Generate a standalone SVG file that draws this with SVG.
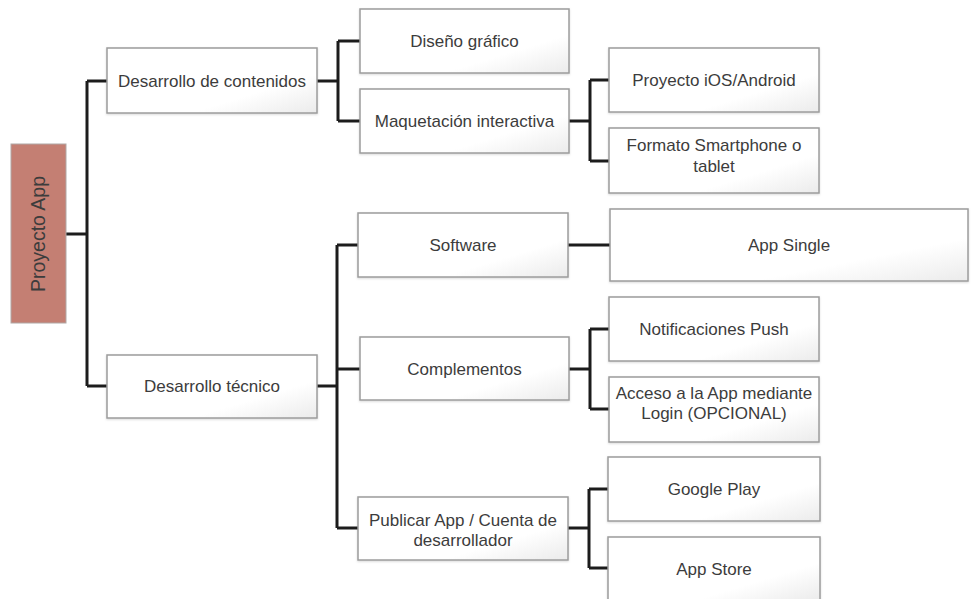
<svg xmlns="http://www.w3.org/2000/svg" width="972" height="599" viewBox="0 0 972 599">
<style>
.box{fill:url(#g);stroke:#9c9c9c;stroke-width:1.5;filter:url(#sh)}
.t{font-family:"Liberation Sans",Arial,sans-serif;font-size:17px;fill:#3c3c3c;text-anchor:middle}
.c{fill:none;stroke:#1c1c1c;stroke-width:3}
</style>
<defs>
<linearGradient id="g" x1="0" y1="0" x2="1" y2="1">
<stop offset="0" stop-color="#ffffff"/>
<stop offset="0.7" stop-color="#ffffff"/>
<stop offset="1" stop-color="#ebebeb"/>
</linearGradient>
<filter id="sh" x="-5%" y="-5%" width="110%" height="115%">
<feDropShadow dx="0" dy="1" stdDeviation="1" flood-color="#000" flood-opacity="0.15"/>
</filter>
</defs>
<rect width="972" height="599" fill="#ffffff"/>
<g id="connectors">
<path class="c" d="M66,234 H87 M87,81 V386 M87,81 H107 M87,386 H107"/>
<path class="c" d="M317,81 H338 M338,41 V121 M338,41 H360 M338,121 H360"/>
<path class="c" d="M569,121 H590 M590,80 V161 M590,80 H609 M590,161 H609"/>
<path class="c" d="M317,386 H337 M337,245 V528 M337,245 H358 M337,369 H360 M337,528 H358"/>
<path class="c" d="M568,245 H610"/>
<path class="c" d="M569,369 H590 M590,329 V409 M590,329 H609 M590,409 H609"/>
<path class="c" d="M568,528 H589 M589,489 V568 M589,489 H608 M589,568 H608"/>
</g>
<g id="root">
<rect x="11" y="144" width="55" height="179" fill="#c47f73" stroke="#b0a8a6" stroke-width="1"/>
<text class="t" style="font-size:19.5px" transform="translate(45,234) rotate(-90)">Proyecto App</text>
</g>
<g id="n1"><rect class="box" x="107" y="48" width="210" height="65"/><text class="t" x="212" y="87">Desarrollo de contenidos</text></g>
<g id="n2"><rect class="box" x="107" y="355" width="210" height="63"/><text class="t" x="212" y="392">Desarrollo técnico</text></g>
<g id="n3"><rect class="box" x="360" y="9" width="209" height="64"/><text class="t" x="464.5" y="47">Diseño gráfico</text></g>
<g id="n4"><rect class="box" x="360" y="89" width="209" height="64"/><text class="t" x="464.5" y="127">Maquetación interactiva</text></g>
<g id="n5"><rect class="box" x="609" y="48" width="210" height="64"/><text class="t" x="714" y="86">Proyecto iOS/Android</text></g>
<g id="n6"><rect class="box" x="609" y="128" width="210" height="65"/><text class="t" x="714" y="151">Formato Smartphone o</text><text class="t" x="714" y="172">tablet</text></g>
<g id="n7"><rect class="box" x="358" y="213" width="210" height="64"/><text class="t" x="463" y="251">Software</text></g>
<g id="n8"><rect class="box" x="360" y="337" width="209" height="63"/><text class="t" x="464.5" y="375">Complementos</text></g>
<g id="n9"><rect class="box" x="358" y="497" width="210" height="63"/><text class="t" x="463" y="526">Publicar App / Cuenta de</text><text class="t" x="463" y="546">desarrollador</text></g>
<g id="n10"><rect class="box" x="610" y="209" width="358" height="72"/><text class="t" x="789" y="251">App Single</text></g>
<g id="n11"><rect class="box" x="609" y="297" width="210" height="64"/><text class="t" x="714" y="335">Notificaciones Push</text></g>
<g id="n12"><rect class="box" x="609" y="377" width="210" height="65"/><text class="t" x="714" y="399">Acceso a la App mediante</text><text class="t" x="714" y="419">Login (OPCIONAL)</text></g>
<g id="n13"><rect class="box" x="608" y="457" width="212" height="64"/><text class="t" x="714" y="495">Google Play</text></g>
<g id="n14"><rect class="box" x="608" y="537" width="212" height="64"/><text class="t" x="714" y="575">App Store</text></g>
</svg>
